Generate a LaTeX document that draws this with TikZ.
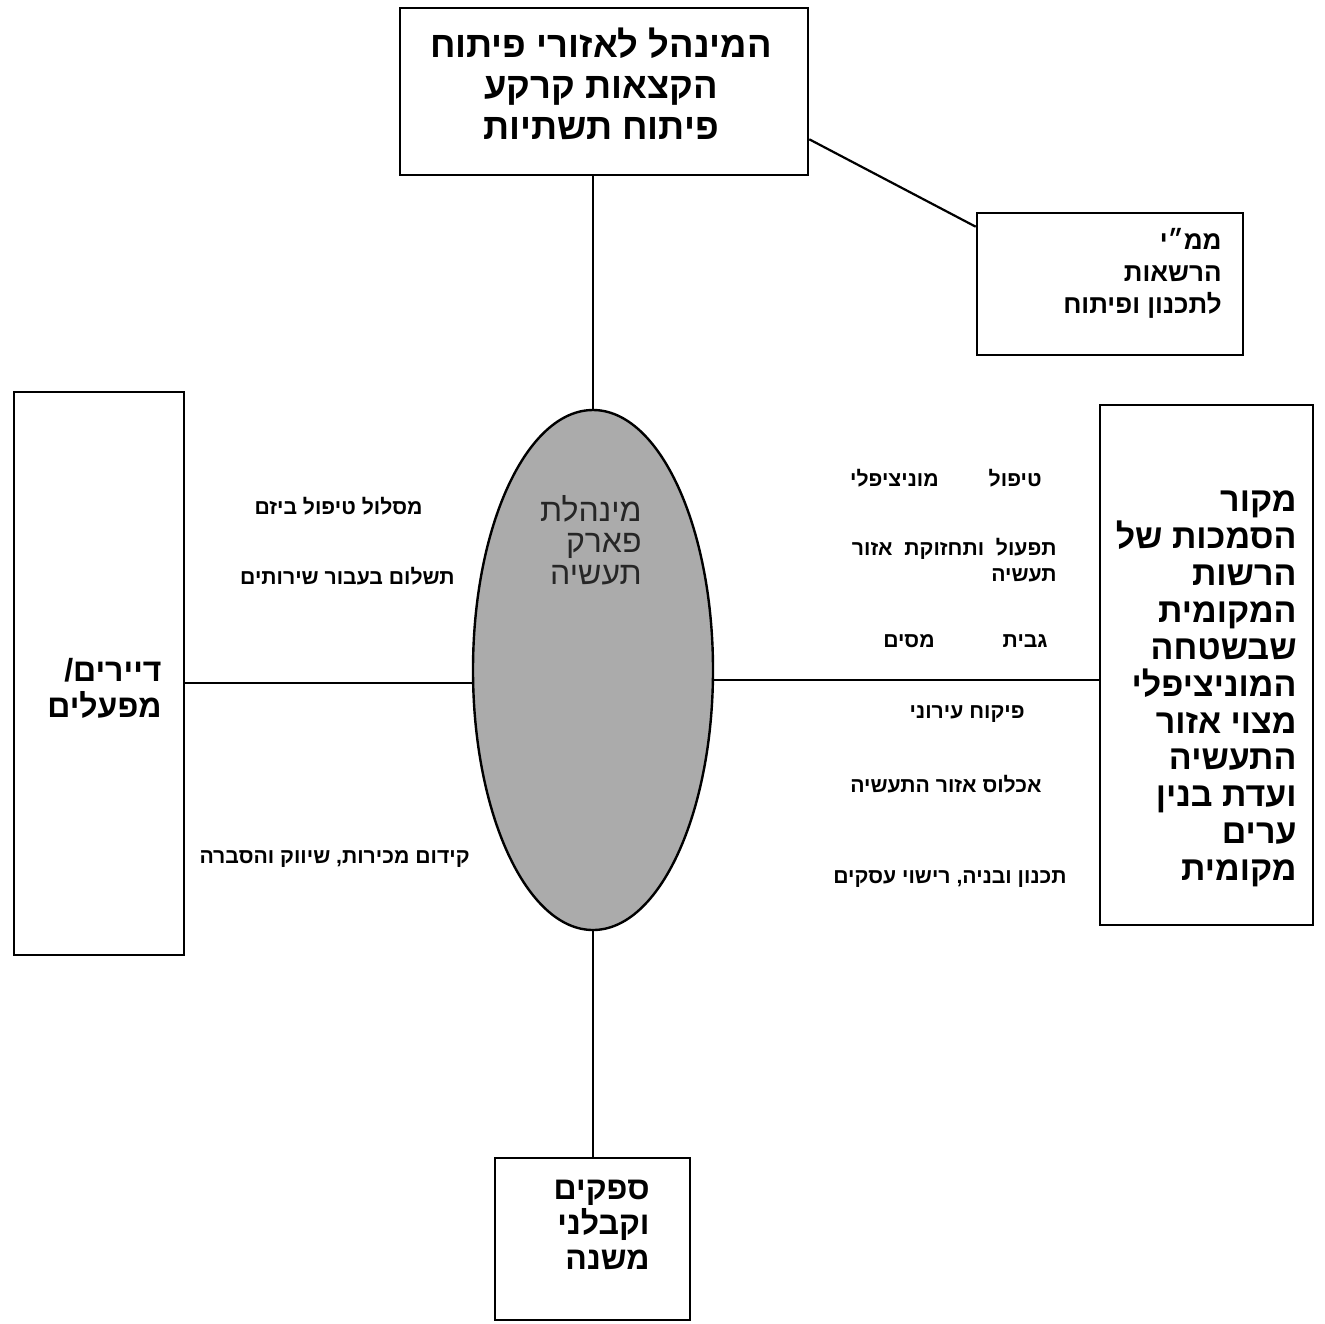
\documentclass[tikz,border=0pt]{standalone}
\usepackage{fontspec}
\usetikzlibrary{shapes.geometric}
\TeXXeTstate=1
\newfontfamily\hebfont[Script=Hebrew]{Liberation Sans}
\newcommand\heb[1]{\beginR #1\endR}
\tikzset{
  frame/.style={draw, line width=1.3pt, rectangle, inner sep=0pt},
  conn/.style={draw, line width=1.1pt},
  bigtxt/.style={inner sep=0pt, font=\hebfont\bfseries},
  smalltxt/.style={inner sep=0pt, anchor=east, font=\hebfont\bfseries\fontsize{10.6}{13}\selectfont, align=right},
}
\begin{document}
\begin{tikzpicture}[x=0.5pt,y=-0.5pt]
\useasboundingbox[fill=white] (0,0) rectangle (1324,1324);
% boxes
\node[frame, minimum width=204pt, minimum height=83.5pt] (top) at (604,91.5) {};
\node[frame, minimum width=133pt, minimum height=71pt] (auth) at (1110,284) {};
\node[ellipse, draw, line width=1.2pt, fill=black!33, minimum width=120pt, minimum height=260pt, inner sep=0pt] (ell) at (593,670) {};
\node[frame, minimum width=85pt, minimum height=281.5pt] (left) at (99,673.5) {};
\node[frame, minimum width=106.5pt, minimum height=260pt] (right) at (1206.5,665) {};
\node[frame, minimum width=97.5pt, minimum height=81pt] (bottom) at (592.5,1239) {};
% box texts
\node[bigtxt, align=center, font=\hebfont\bfseries\fontsize{18.2}{20.5}\selectfont] (toptxt) at (601,84)
  {\heb{המינהל לאזורי פיתוח}\\ \heb{הקצאות קרקע}\\ \heb{פיתוח תשתיות}};
\node[bigtxt, anchor=east, align=right, font=\hebfont\bfseries\fontsize{13}{16}\selectfont] (authtxt) at (1222,273)
  {\heb{ממ״י}\\ \heb{הרשאות}\\ \heb{לתכנון ופיתוח}};
\node[inner sep=0pt, anchor=east, align=right, text=black!85, font=\hebfont\fontsize{16}{15.75}\selectfont] (elltxt) at (642,540)
  {\heb{מינהלת}\\ \heb{פארק}\\ \heb{תעשיה}};
\node[bigtxt, anchor=east, align=right, font=\hebfont\bfseries\fontsize{16}{18}\selectfont] (lefttxt) at (162,688)
  {\heb{דיירים/}\\ \heb{מפעלים}};
\node[bigtxt, anchor=east, align=right, font=\hebfont\bfseries\fontsize{17}{18.45}\selectfont] (righttxt) at (1297,689)
  {\heb{מקור}\\ \heb{הסמכות של}\\ \heb{הרשות}\\ \heb{המקומית}\\ \heb{שבשטחה}\\ \heb{המוניציפלי}\\ \heb{מצוי אזור}\\ \heb{התעשיה}\\ \heb{ועדת בנין}\\ \heb{ערים}\\ \heb{מקומית}};
\node[bigtxt, anchor=east, align=right, font=\hebfont\bfseries\fontsize{16}{17.5}\selectfont] (bottxt) at (650,1225)
  {\heb{ספקים}\\ \heb{וקבלני}\\ \heb{משנה}};
% labels right
\node[smalltxt] (r1) at (1042,478) {\heb{טיפול\hspace{25pt}מוניציפלי}};
\node[smalltxt] (r2) at (1057,560) {\heb{תפעול \ ותחזוקת \ אזור}\\ \heb{תעשיה}};
\node[smalltxt] (r3) at (1048,641) {\heb{גבית\hspace{34pt}מסים}};
\node[smalltxt] (r4) at (1025,714) {\heb{פיקוח עירוני}};
\node[smalltxt] (r5) at (1042,784) {\heb{אכלוס אזור התעשיה}};
\node[smalltxt] (r6) at (1067,879) {\heb{תכנון ובניה, רישוי עסקים}};
% labels left
\node[smalltxt] (l1) at (423,506) {\heb{מסלול טיפול ביזם}};
\node[smalltxt] (l2) at (455,576) {\heb{תשלום בעבור שירותים}};
\node[smalltxt] (l3) at (470,859) {\heb{קידום מכירות, שיווק והסברה}};
% connectors
\draw[conn] (ell.north |- top.south) -- (ell.north);
\draw[conn] ([yshift=18.5pt]top.south east) -- ([yshift=-7.5pt]auth.north west);
\draw[conn] ([yshift=-6.5pt]ell.west -| left.east) -- ([yshift=-6.5pt]ell.west);
\draw[conn] ([yshift=-5pt]ell.east) -- ([yshift=-5pt]ell.east -| right.west);
\draw[conn] (ell.south) -- (ell.south |- bottom.north);
\end{tikzpicture}
\end{document}
